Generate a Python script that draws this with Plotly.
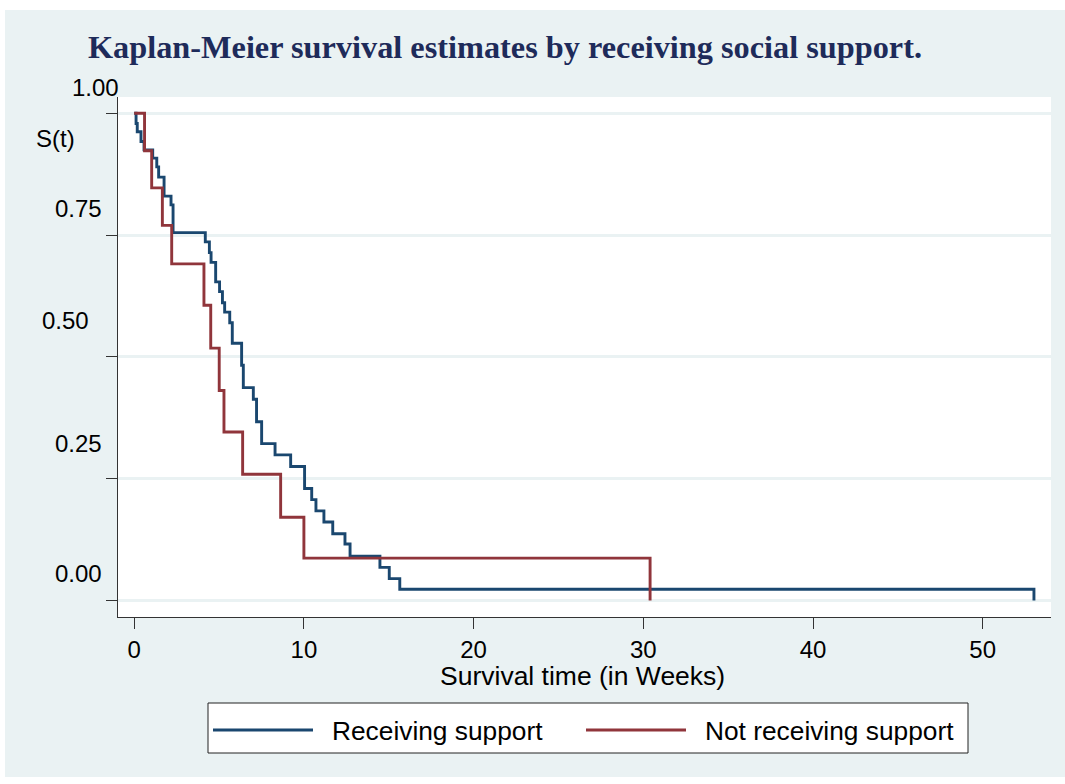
import plotly.graph_objects as go

# ---- data -------------------------------------------------------------
series_names = ["Receiving support", "Not receiving support"]

# Kaplan-Meier step points: time of each drop (weeks) and S(t) after it
support_times = [0.11, 0.18, 0.40, 0.58, 1.09, 1.33, 1.44, 1.76, 2.17, 2.29,
                 4.19, 4.43, 4.53, 4.80, 5.03, 5.20, 5.33, 5.63, 5.78, 6.33,
                 6.43, 7.02, 7.21, 7.51, 8.30, 9.22, 10.04, 10.46, 10.71, 11.18,
                 11.70, 12.42, 12.72, 14.48, 15.03, 15.65, 53.02]
support_surv = [0.979, 0.962, 0.942, 0.925, 0.908, 0.890, 0.869, 0.830, 0.812, 0.755,
                0.736, 0.714, 0.694, 0.654, 0.634, 0.611, 0.592, 0.570, 0.528, 0.483,
                0.437, 0.413, 0.367, 0.322, 0.299, 0.275, 0.230, 0.207, 0.184, 0.161,
                0.137, 0.116, 0.091, 0.068, 0.045, 0.023, 0.0]

nosupport_times = [0.61, 1.03, 1.66, 2.21, 4.11, 4.51, 5.01, 5.29, 6.39, 8.63, 10.0, 30.4]
nosupport_surv = [0.923, 0.847, 0.770, 0.691, 0.606, 0.518, 0.431, 0.346, 0.259,
                  0.171, 0.087, 0.0]

x_ticks = [0, 10, 20, 30, 40, 50]
y_ticks = [1.0, 0.75, 0.5, 0.25, 0.0]
y_tick_text = ["1.00", "0.75", "0.50", "0.25", "0.00"]

# ---- styling ----------------------------------------------------------
W, H = 1065, 784
PL, PR, PT, PB = 118, 1051, 97, 617          # plot area in pixels
BG = "#eaf2f3"
NAVY = "#1a476f"
MAROON = "#90353b"
SANS = "Liberation Sans, Arial, sans-serif"
SERIF = "Liberation Serif, Times New Roman, serif"
colors = [NAVY, MAROON]


def px2x(px):
    return (px - PL) / (PR - PL)


def py2y(py):
    return (PB - py) / (PB - PT)


fig = go.Figure()
for name, times, surv, col in zip(series_names,
                                  [support_times, nosupport_times],
                                  [support_surv, nosupport_surv], colors):
    fig.add_trace(go.Scatter(
        x=[0.0] + times, y=[1.0] + surv, mode="lines", name=name,
        line=dict(color=col, width=2.9, shape="hv"), showlegend=False))

shapes = []
annotations = []

# white margins around the light graph region
shapes.append(dict(type="rect", xref="paper", yref="paper", layer="above",
                   x0=px2x(0), x1=px2x(W), y0=py2y(0), y1=py2y(10),
                   fillcolor="white", line=dict(width=0)))
shapes.append(dict(type="rect", xref="paper", yref="paper", layer="above",
                   x0=px2x(0), x1=px2x(5), y0=py2y(0), y1=py2y(H),
                   fillcolor="white", line=dict(width=0)))
shapes.append(dict(type="rect", xref="paper", yref="paper", layer="above",
                   x0=px2x(0), x1=px2x(W), y0=py2y(777), y1=py2y(H),
                   fillcolor="white", line=dict(width=0)))

# y-axis labels (placed above their ticks)
label_pos = [(121, 87), (104, 208), (91, 320), (104, 443), (104, 573)]
for txt, (lx, ly) in zip(y_tick_text, label_pos):
    annotations.append(dict(text=txt, xref="paper", yref="paper",
                            x=px2x(lx), y=py2y(ly), xanchor="right", yanchor="middle",
                            showarrow=False, font=dict(family=SANS, size=24, color="black")))
annotations.append(dict(text="S(t)", xref="paper", yref="paper",
                        x=px2x(77), y=py2y(138), xanchor="right", yanchor="middle",
                        showarrow=False, font=dict(family=SANS, size=24, color="black")))

# x-axis title
annotations.append(dict(text="Survival time (in Weeks)", xref="paper", yref="paper",
                        x=px2x(582), y=py2y(676), xanchor="center", yanchor="middle",
                        showarrow=False, font=dict(family=SANS, size=26.5, color="black")))

# legend box
shapes.append(dict(type="rect", xref="paper", yref="paper", layer="above",
                   x0=px2x(208), x1=px2x(968), y0=py2y(753), y1=py2y(703),
                   fillcolor="white", line=dict(color="#222222", width=1)))
legend_items = [(213, 313, 330), (586, 686, 703)]
for name, col, (lx0, lx1, tx) in zip(series_names, colors, legend_items):
    shapes.append(dict(type="line", xref="paper", yref="paper", layer="above",
                       x0=px2x(lx0), x1=px2x(lx1), y0=py2y(730), y1=py2y(730),
                       line=dict(color=col, width=2.9)))
    annotations.append(dict(text=name, xref="paper", yref="paper",
                            x=px2x(tx), y=py2y(731), xanchor="left", yanchor="middle",
                            showarrow=False, font=dict(family=SANS, size=26.3, color="black")))

fig.update_layout(
    width=W, height=H, autosize=False,
    margin=dict(l=PL, r=W - PR, t=PT, b=H - PB, pad=0),
    paper_bgcolor=BG, plot_bgcolor="white",
    title=dict(text="Kaplan-Meier survival estimates by receiving social support.",
               x=88 / W, xanchor="left", xref="container",
               y=1 - 47 / H, yanchor="middle", yref="container",
               font=dict(family=SERIF, size=32.3, color="#1e2b5a", weight="bold")),
    xaxis=dict(range=[(PL - 134.2) / 16.97, (PR - 134.2) / 16.97],
               tickvals=x_ticks, ticktext=[str(v) for v in x_ticks],
               ticks="outside", ticklen=11, tickwidth=1.2, tickcolor="#333333",
               showline=True, linecolor="#333333", linewidth=1.2,
               showgrid=False, zeroline=False,
               tickfont=dict(family=SANS, size=24, color="black")),
    yaxis=dict(range=[(600.5 - PB) / 487.2, (600.5 - PT) / 487.2],
               tickvals=y_ticks, showticklabels=False,
               ticks="outside", ticklen=11, tickwidth=1.2, tickcolor="#333333",
               showline=True, linecolor="#333333", linewidth=1.2,
               showgrid=True, gridcolor=BG, gridwidth=2.5, zeroline=False),
    shapes=shapes, annotations=annotations, showlegend=False,
)

fig.write_html("out.html")
